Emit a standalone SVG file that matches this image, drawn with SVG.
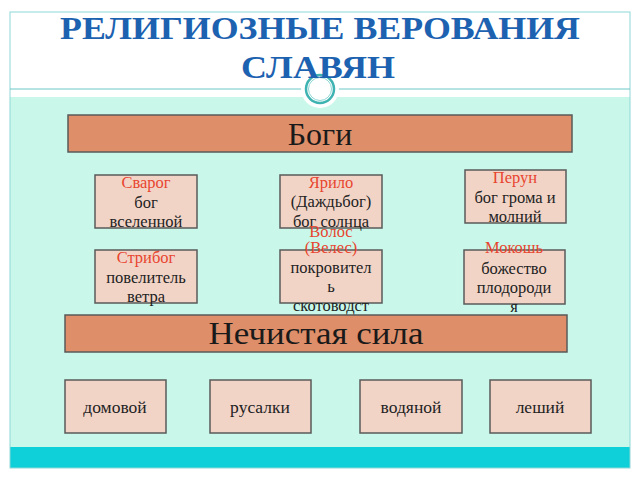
<svg xmlns="http://www.w3.org/2000/svg" width="640" height="480" viewBox="0 0 640 480">
<style>
.box{fill:#f2d4c7;stroke:#5a5a5a;stroke-width:1.5}
.bar{fill:#de8e68;stroke:#5a5a5a;stroke-width:1.5}
text{text-anchor:middle}
.t{font-size:16.5px;fill:#222}
.r{font-size:16.5px;fill:#e8452f}
.b{font-size:17.5px;fill:#222}
.big{font-size:32px;fill:#1a1a1a}
.title{font-size:32px;font-weight:bold;fill:#1c62b0}
</style>
<rect x="0" y="0" width="640" height="480" fill="#ffffff"/>
<rect x="10" y="97" width="620" height="350" fill="#c9f8ea"/>
<rect x="10" y="447" width="620" height="21" fill="#0fcfd8"/>
<rect x="10" y="12" width="620" height="456" fill="none" stroke="#8fd6d6" stroke-width="1"/>
<line x1="10" y1="89" x2="630" y2="89" stroke="#6cc6c6" stroke-width="1"/>
<circle cx="320" cy="89" r="19" fill="#ffffff"/>
<circle cx="320" cy="89" r="14" fill="none" stroke="#3fb2b2" stroke-width="2.5"/>
<circle cx="320" cy="89" r="11.5" fill="none" stroke="#8fd6d6" stroke-width="1"/>
<g font-family="'Liberation Serif', 'Times New Roman', 'DejaVu Serif', serif">
<text class="title" x="320" y="39" textLength="520" lengthAdjust="spacingAndGlyphs">РЕЛИГИОЗНЫЕ ВЕРОВАНИЯ</text>
<text class="title" x="318" y="78" textLength="154" lengthAdjust="spacingAndGlyphs">СЛАВЯН</text>
<g id="connectors"></g>
<g id="bogi"><rect class="bar" x="68" y="115" width="504" height="37"/><text class="big" x="320" y="145">Боги</text></g>
<g id="svarog"><rect class="box" x="95" y="175" width="102" height="53"/>
<text class="r" x="146" y="188">Сварог</text><text class="t" x="146" y="208">бог</text><text class="t" x="146" y="227">вселенной</text></g>
<g id="yarilo"><rect class="box" x="280" y="175" width="102" height="53"/>
<text class="r" x="331" y="188">Ярило</text><text class="t" x="331" y="207">(Даждьбог)</text><text class="t" x="331" y="227">бог солнца</text></g>
<g id="perun"><rect class="box" x="465" y="170" width="101" height="53"/>
<text class="r" x="515" y="183">Перун</text><text class="t" x="515" y="203">бог грома и</text><text class="t" x="515" y="222">молний</text></g>
<g id="stribog"><rect class="box" x="95" y="250" width="102" height="53"/>
<text class="r" x="146" y="263">Стрибог</text><text class="t" x="146" y="283">повелитель</text><text class="t" x="146" y="302">ветра</text></g>
<g id="volos"><rect class="box" x="280" y="250" width="102" height="53"/>
<text class="r" x="331" y="237">Волос</text><text class="r" x="331" y="253">(Велес)</text><text class="t" x="331" y="273">покровител</text><text class="t" x="331" y="292">ь</text><text class="t" x="331" y="311">скотоводст</text></g>
<g id="mokosh"><rect class="box" x="464" y="250" width="101" height="54"/>
<text class="r" x="514" y="253">Мокошь</text><text class="t" x="514" y="274">божество</text><text class="t" x="514" y="293">плодороди</text><text class="t" x="514" y="312">я</text></g>
<g id="nechist"><rect class="bar" x="65" y="315" width="502" height="37"/><text class="big" x="316" y="344" textLength="215" lengthAdjust="spacingAndGlyphs">Нечистая сила</text></g>
<g id="domovoy"><rect class="box" x="65" y="380" width="101" height="53"/><text class="b" x="115" y="413">домовой</text></g>
<g id="rusalki"><rect class="box" x="210" y="380" width="101" height="53"/><text class="b" x="260" y="413">русалки</text></g>
<g id="vodyanoy"><rect class="box" x="360" y="380" width="102" height="53"/><text class="b" x="411" y="413">водяной</text></g>
<g id="leshiy"><rect class="box" x="490" y="380" width="101" height="53"/><text class="b" x="540" y="413">леший</text></g>
</g>
</svg>
